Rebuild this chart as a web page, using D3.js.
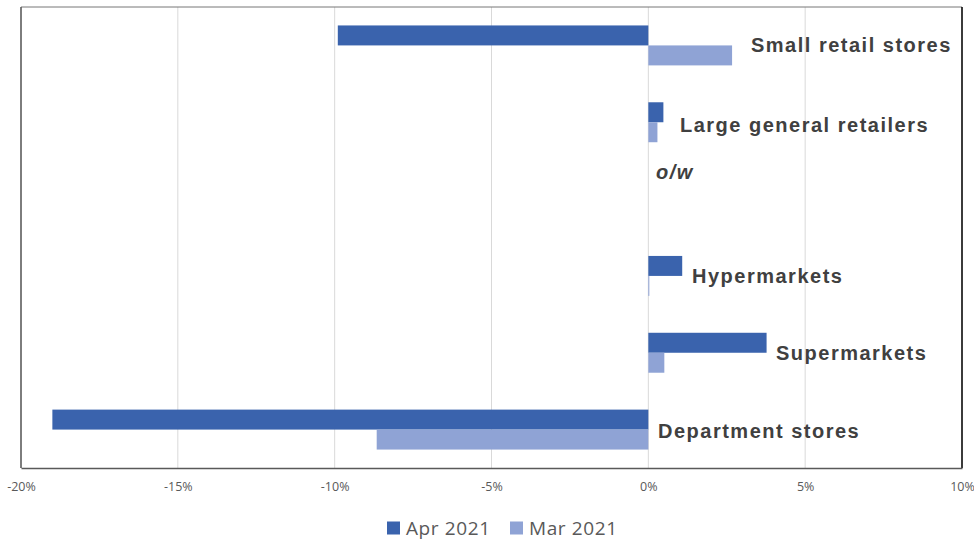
<!DOCTYPE html>
<html><head><meta charset="utf-8">
<script src="https://cdn.jsdelivr.net/npm/d3@7"></script>
<style>body{margin:0;background:#fff}svg{display:block}</style>
</head><body>
<svg id="c" width="974" height="541"></svg>
<script>
const categories = ["Small retail stores","Large general retailers","o/w","Hypermarkets","Supermarkets","Department stores"];
const seriesNames = ["Apr 2021","Mar 2021"];
const apr2021 = [-9.9, 0.48, null, 1.08, 3.77, -19.0];
const mar2021 = [2.67, 0.29, null, 0.03, 0.51, -8.66];
const xTicks = [-20,-15,-10,-5,0,5,10];
const colors = ["#3A63AD","#8FA3D5"];

const svg = d3.select("#c");
const m = {l:21, r:962, t:7, b:468};
const x = d3.scaleLinear().domain([-20,10]).range([m.l,m.r]);
const y = d3.scaleBand().domain(categories).range([m.t,m.b]).paddingInner(0.48).paddingOuter(0.24);
const y2 = d3.scaleBand().domain(seriesNames).range([0,y.bandwidth()]);

// gridlines
svg.append("g").selectAll("line").data(xTicks).join("line")
  .attr("x1",d=>x(d)).attr("x2",d=>x(d)).attr("y1",m.t).attr("y2",m.b)
  .attr("stroke","#d9d9d9").attr("stroke-width",1);

const series = [apr2021, mar2021];
series.forEach((vals,si)=>{
  svg.append("g").selectAll("rect").data(categories.map((c,i)=>({c,v:vals[i]})).filter(d=>d.v!==null)).join("rect")
    .attr("x",d=>Math.min(x(0),x(d.v)))
    .attr("width",d=>Math.max(1,Math.abs(x(d.v)-x(0))))
    .attr("y",d=>y(d.c)+y2(seriesNames[si]))
    .attr("height",y2.bandwidth())
    .attr("fill",colors[si]);
});

// frame
svg.append("line").attr("x1",m.l).attr("x2",m.r).attr("y1",m.t).attr("y2",m.t).attr("stroke","#777").attr("stroke-width",1);
svg.append("line").attr("x1",m.r).attr("x2",m.r).attr("y1",m.t).attr("y2",m.b).attr("stroke","#000").attr("stroke-width",1.5);
svg.append("line").attr("x1",m.l).attr("x2",m.l).attr("y1",m.t).attr("y2",m.b).attr("stroke","#595959").attr("stroke-width",1.5);

// x axis
const xAxis = d3.axisBottom(x).tickValues(xTicks).tickFormat(d=>d+"%").tickSize(0).tickPadding(14);
const gx = svg.append("g").attr("transform",`translate(0,${m.b})`).call(xAxis);
gx.select(".domain").attr("stroke","#595959").attr("stroke-width",1.5);
gx.selectAll("text").attr("font-family","'Open Sans', sans-serif").attr("font-size",12.5).attr("fill","#595959");

// category labels
const labelPos = {
  "Small retail stores": {x:751, dy:0},
  "Large general retailers": {x:680, dy:3},
  "o/w": {x:656, dy:-27},
  "Hypermarkets": {x:692, dy:0},
  "Supermarkets": {x:776, dy:0},
  "Department stores": {x:658, dy:1}
};
svg.append("g").selectAll("text").data(categories).join("text")
  .attr("x",d=>labelPos[d].x)
  .attr("y",d=>y(d)+y.bandwidth()/2+labelPos[d].dy)
  .attr("dy","0.35em")
  .attr("font-family","'Liberation Sans', Arial, sans-serif")
  .attr("font-weight","bold")
  .attr("font-style",d=>d==="o/w"?"italic":"normal")
  .attr("font-size",20)
  .attr("letter-spacing",1.5)
  .attr("fill","#404040")
  .text(d=>d);

// legend
const leg = svg.append("g").attr("transform","translate(0,528)");
const legX = [387, 510];
seriesNames.forEach((s,i)=>{
  leg.append("rect").attr("x",legX[i]).attr("y",-6.5).attr("width",13).attr("height",13).attr("fill",colors[i]);
  leg.append("text").attr("x",legX[i]+19).attr("y",0).attr("dy","0.35em")
    .attr("font-family","'Open Sans', sans-serif").attr("font-size",19).attr("letter-spacing",0.6).attr("fill","#595959").text(s);
});
</script>
</body></html>
